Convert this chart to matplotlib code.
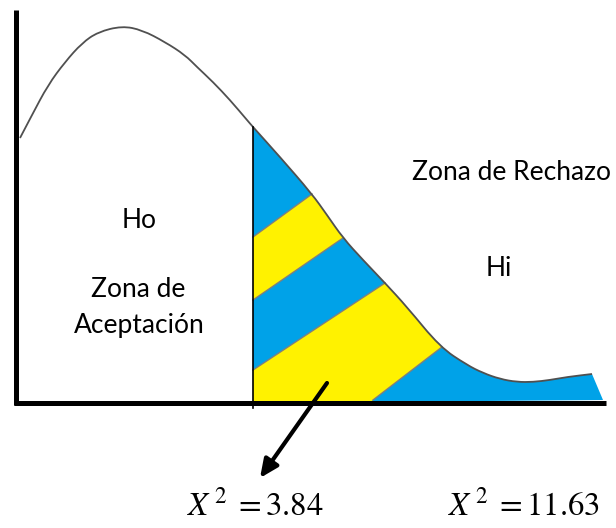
import numpy as np
import matplotlib.pyplot as plt
from matplotlib.patches import Polygon, PathPatch
from matplotlib.path import Path

# curva (coordenadas en pixeles, y hacia abajo)
curva_x = [20, 32, 48, 65, 82, 98, 122, 142, 165, 185, 197, 213, 230, 247, 253,
           280, 312, 327, 343, 363, 385, 407, 440, 467, 483, 500, 517, 533, 550,
           567, 592]
curva_y = [138, 115, 85, 62, 43, 32, 26, 30, 42, 55, 67, 82, 100, 120, 127,
           157, 194, 215, 238, 260, 283, 307, 347, 365, 373, 379, 382, 382, 380,
           377, 374]

x_critico = 253      # X^2 = 3.84
y_base = 403
fin_cola = (603, 400)

# lineas que separan las franjas (extremo izq, extremo der)
divisiones = [((253, 237), (312, 194)),
              ((253, 300), (343, 238)),
              ((253, 370), (385, 283)),
              ((373, 400), (442, 347))]

azul = '#00A2E8'
amarillo = '#FFF200'


def trazo_suave(xs, ys):
    # bezier cuadratica usando los puntos como puntos de control
    pts = np.column_stack([xs, ys]).astype(float)
    verts = [pts[0]]
    codes = [Path.MOVETO]
    for k in range(1, len(pts) - 1):
        verts += [pts[k], (pts[k] + pts[k + 1]) / 2]
        codes += [Path.CURVE3, Path.CURVE3]
    verts.append(pts[-1])
    codes.append(Path.LINETO)
    return verts, codes


fig = plt.figure(figsize=(6.16, 5.28), dpi=100)
ax = fig.add_axes([0, 0, 1, 1])
ax.set_xlim(0, 616)
ax.set_ylim(528, 0)
ax.axis('off')

cx = np.array(curva_x)
cy = np.array(curva_y)
m = cx >= x_critico
v, c = trazo_suave(cx[m], cy[m])
v = [(x_critico, y_base)] + v + [fin_cola, (x_critico, y_base)]
c = [Path.MOVETO] + [Path.LINETO] + c[1:] + [Path.LINETO, Path.CLOSEPOLY]
zona = PathPatch(Path(v, c), facecolor=azul, edgecolor='none', zorder=1)
ax.add_patch(zona)


def extender(p, q, k=400):
    d = np.array(q, float) - np.array(p, float)
    d = d / np.hypot(*d)
    return np.array(p) - d * k, np.array(q) + d * k


# franjas amarillas entre divisiones 1-2 y 3-4
for i, j in [(0, 1), (2, 3)]:
    a1, a2 = extender(*divisiones[i])
    b1, b2 = extender(*divisiones[j])
    franja = Polygon([a1, a2, b2, b1], closed=True, facecolor=amarillo,
                     edgecolor='none', zorder=2)
    ax.add_patch(franja)
    franja.set_clip_path(zona)

for p, q in divisiones:
    ax.plot([p[0], q[0]], [p[1], q[1]], color='#7f7f7f', lw=1.0, zorder=3)

v, c = trazo_suave(curva_x, curva_y)
ax.add_patch(PathPatch(Path(v, c), facecolor='none', edgecolor='#505050',
                       lw=1.3, zorder=4))
ax.plot([x_critico, x_critico], [127, 408], color='black', lw=1.2, zorder=4)

# ejes
ax.plot([16, 16], [10, 405], color='black', lw=3.6, solid_capstyle='butt', zorder=5)
ax.plot([14, 606], [y_base, y_base], color='black', lw=3.6, solid_capstyle='butt', zorder=5)

fuente = 'Lato'
tam = 19
ax.text(139, 228, 'Ho', fontsize=tam, family=fuente, ha='center', va='baseline')
ax.text(138, 297, 'Zona de', fontsize=tam, family=fuente, ha='center', va='baseline')
ax.text(139, 333, 'Aceptación', fontsize=tam, family=fuente, ha='center', va='baseline')
ax.text(512, 180, 'Zona de Rechazo', fontsize=tam, family=fuente, ha='center', va='baseline')
ax.text(499, 276, 'Hi', fontsize=tam, family=fuente, ha='center', va='baseline')

ax.annotate('', xy=(260, 478), xytext=(327, 383),
            arrowprops=dict(arrowstyle='-|>,head_length=1.1,head_width=0.5',
                            color='black', lw=3, shrinkA=0, shrinkB=0))

plt.rcParams['mathtext.fontset'] = 'stix'
ax.text(187, 515, r'$X^{\,2}\;=3.84$', fontsize=23.5, ha='left', va='baseline')
ax.text(448, 515, r'$X^{\,2}\;=11.63$', fontsize=23.5, ha='left', va='baseline')

fig.savefig('out.png', dpi=100)
